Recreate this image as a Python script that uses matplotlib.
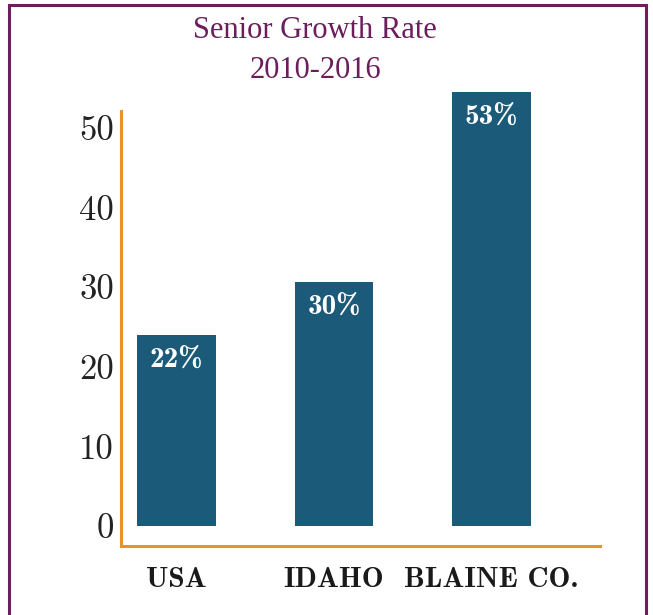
import matplotlib.pyplot as plt
from matplotlib.patches import Rectangle

# data (bar heights as drawn, labels as printed)
regions = ['USA', 'IDAHO', 'BLAINE CO.']
heights = [24.0, 30.6, 54.5]
labels = ['22%', '30%', '53%']
yticks = [0, 10, 20, 30, 40, 50]

bar_color = '#1c5a79'
axis_color = '#e8922e'
frame_color = '#6b1d5c'

fig = plt.figure(figsize=(6.53, 6.15), dpi=100)
ax = fig.add_axes([0.1853, 0.1122, 0.7335, 0.7073])

x = range(len(regions))
bars = ax.bar(x, heights, width=0.5, color=bar_color, clip_on=False, zorder=3)

for xi, h, lab in zip(x, heights, labels):
    ax.annotate(lab, xy=(xi, h), xytext=(0, -18), textcoords='offset points',
                ha='center', va='center', color='white', fontsize=21,
                family='cmb10', zorder=4, annotation_clip=False)

ax.set_xlim(-0.352, 2.689)
ax.set_ylim(-2.5, 52.1)
ax.set_yticks(yticks)
ax.set_yticklabels([str(t) for t in yticks], family='cmr10', fontsize=25, color='#222222')
ax.set_xticks(list(x))
ax.set_xticklabels(regions, family='cmb10', fontsize=21, color='#1a1a1a')
ax.tick_params(axis='y', length=0, pad=5)
ax.tick_params(axis='x', length=0, pad=15)

for side in ['top', 'right']:
    ax.spines[side].set_visible(False)
for side in ['left', 'bottom']:
    ax.spines[side].set_color(axis_color)
    ax.spines[side].set_linewidth(2.2)

fig.text(315 / 653, 1 - 30 / 615, 'Senior Growth Rate', ha='center', va='center',
         fontsize=22, family='Liberation Serif', color=frame_color)
fig.text(315 / 653, 1 - 70 / 615, '2010-2016', ha='center', va='center',
         fontsize=22, family='Liberation Serif', color=frame_color)

# frame round the whole picture, open at the bottom edge
fig.patches.append(Rectangle((9 / 653, -0.1), 637 / 653, 1.1 - 5 / 615,
                             transform=fig.transFigure, fill=False,
                             edgecolor=frame_color, linewidth=2.2))

fig.savefig('out.png', dpi=100)
